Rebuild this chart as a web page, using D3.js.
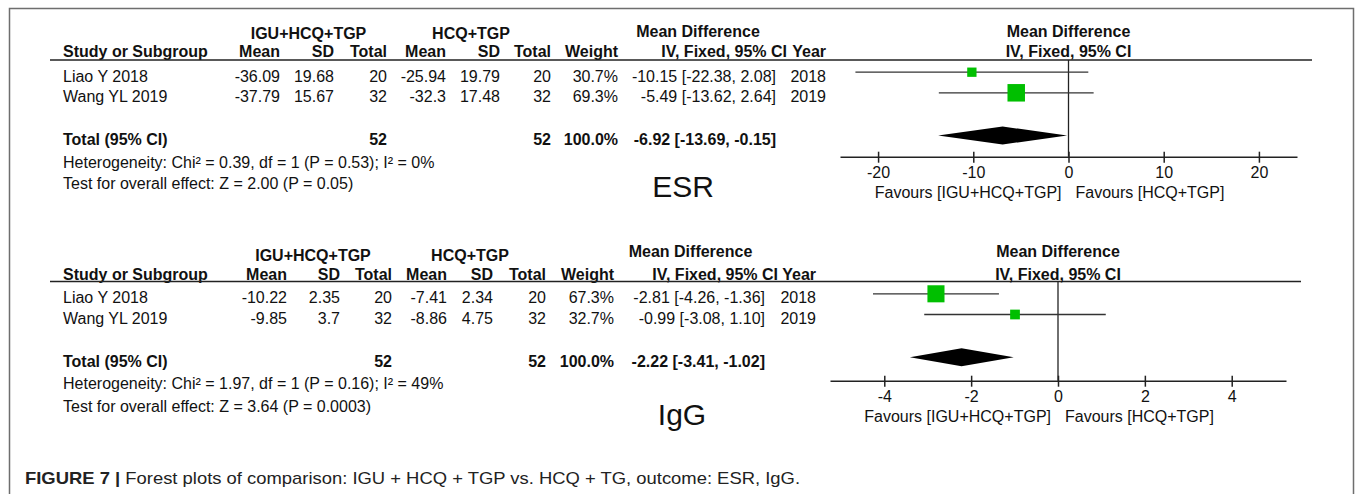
<!DOCTYPE html>
<html>
<head>
<meta charset="utf-8">
<script src="https://cdn.jsdelivr.net/npm/d3@7"></script>
<style>
  html, body { margin: 0; padding: 0; background: #fff; }
  svg { display: block; font-family: "Liberation Sans", Arial, Helvetica, sans-serif; }
</style>
</head>
<body>
<svg id="chart" width="1355" height="494"></svg>
<script>
// ---- study-level data ----
const studies = ["Liao Y 2018", "Wang YL 2019"];
const years = [2018, 2019];

// ESR
const esrIguMean = [-36.09, -37.79];
const esrIguSD = [19.68, 15.67];
const esrIguN = [20, 32];
const esrHcqMean = [-25.94, -32.3];
const esrHcqSD = [19.79, 17.48];
const esrHcqN = [20, 32];
const esrWeight = [30.7, 69.3];
const esrMD = [-10.15, -5.49];
const esrLow = [-22.38, -13.62];
const esrHigh = [2.08, 2.64];
const esrPooled = [-6.92, -13.69, -0.15];   // estimate, lower, upper
const esrTicks = [-20, -10, 0, 10, 20];
const esrHet = "Heterogeneity: Chi² = 0.39, df = 1 (P = 0.53); I² = 0%";
const esrTest = "Test for overall effect: Z = 2.00 (P = 0.05)";

// IgG
const iggIguMean = [-10.22, -9.85];
const iggIguSD = [2.35, 3.7];
const iggIguN = [20, 32];
const iggHcqMean = [-7.41, -8.86];
const iggHcqSD = [2.34, 4.75];
const iggHcqN = [20, 32];
const iggWeight = [67.3, 32.7];
const iggMD = [-2.81, -0.99];
const iggLow = [-4.26, -3.08];
const iggHigh = [-1.36, 1.10];
const iggPooled = [-2.22, -3.41, -1.02];
const iggTicks = [-4, -2, 0, 2, 4];
const iggHet = "Heterogeneity: Chi² = 1.97, df = 1 (P = 0.16); I² = 49%";
const iggTest = "Test for overall effect: Z = 3.64 (P = 0.0003)";

const groupA = "IGU+HCQ+TGP";
const groupB = "HCQ+TGP";

const svg = d3.select("#chart");
const INK = "#111";
const FS = 16;

// frame
svg.append("path")
  .attr("d", "M9.5,494 L9.5,8.5 L1353.5,8.5 L1353.5,494")
  .attr("fill", "none").attr("stroke", "#6e6e6e").attr("stroke-width", 1.5);

const fmt2 = v => v.toFixed(2);
const ciText = (m, lo, hi) => `${fmt2(m)} [${fmt2(lo)}, ${fmt2(hi)}]`;

function txt(g, x, y, s, anchor, bold, size) {
  return g.append("text")
    .attr("x", x).attr("y", y)
    .attr("text-anchor", anchor || "start")
    .attr("font-size", size || FS)
    .attr("font-weight", bold ? "bold" : "normal")
    .attr("fill", INK)
    .text(s);
}

function drawPanel(p) {
  const g = svg.append("g");
  const L = p.layout;

  // group headers
  txt(g, L.grpA, L.h1, groupA, "middle", true);
  txt(g, L.grpB, L.h1, groupB, "middle", true);
  txt(g, L.grpMD, L.h0, "Mean Difference", "middle", true);

  // column headers
  txt(g, 63, L.h2, "Study or Subgroup", "start", true);
  txt(g, L.c[0], L.h2, "Mean", "end", true);
  txt(g, L.c[1], L.h2, "SD", "end", true);
  txt(g, L.c[2], L.h2, "Total", "end", true);
  txt(g, L.c[3], L.h2, "Mean", "end", true);
  txt(g, L.c[4], L.h2, "SD", "end", true);
  txt(g, L.c[5], L.h2, "Total", "end", true);
  txt(g, L.c[6], L.h2, "Weight", "end", true);
  txt(g, L.ivHead, L.h2, "IV, Fixed, 95% CI", "end", true);
  txt(g, L.c[8], L.h2, "Year", "end", true);

  // header rule
  g.append("line")
    .attr("x1", 50).attr("x2", L.ruleEnd)
    .attr("y1", L.rule).attr("y2", L.rule)
    .attr("stroke", "#222").attr("stroke-width", 1.5);

  // study rows
  studies.forEach((s, i) => {
    const y = L.rows[i];
    txt(g, 63, y, s);
    txt(g, L.c[0], y, String(p.aMean[i]), "end");
    txt(g, L.c[1], y, String(p.aSD[i]), "end");
    txt(g, L.c[2], y, String(p.aN[i]), "end");
    txt(g, L.c[3], y, String(p.bMean[i]), "end");
    txt(g, L.c[4], y, String(p.bSD[i]), "end");
    txt(g, L.c[5], y, String(p.bN[i]), "end");
    txt(g, L.c[6], y, p.weight[i].toFixed(1) + "%", "end");
    txt(g, L.c[7], y, ciText(p.md[i], p.lo[i], p.hi[i]), "end");
    txt(g, L.c[8], y, String(years[i]), "end");
  });

  // totals
  const totA = d3.sum(p.aN), totB = d3.sum(p.bN), totW = d3.sum(p.weight);
  txt(g, 63, L.total, "Total (95% CI)", "start", true);
  txt(g, L.c[2], L.total, String(totA), "end", true);
  txt(g, L.c[5], L.total, String(totB), "end", true);
  txt(g, L.c[6], L.total, totW.toFixed(1) + "%", "end", true);
  txt(g, L.c[7], L.total, ciText(p.pooled[0], p.pooled[1], p.pooled[2]), "end", true);
  txt(g, 63, L.het, p.het);
  txt(g, 63, L.test, p.test);

  // outcome label
  txt(g, L.tagX, L.tagY, p.tag, "middle", false, 30);

  // ---- forest plot ----
  const x = d3.scaleLinear().domain(p.domain).range(p.range);
  const size = d3.scaleLinear().domain([0, 100]).range([2.8, 24]);
  const off = 9.5;

  txt(g, x(0), L.h0, "Mean Difference", "middle", true);
  txt(g, x(0), L.h2, "IV, Fixed, 95% CI", "middle", true);

  // line of no effect
  g.append("line")
    .attr("x1", x(0)).attr("x2", x(0))
    .attr("y1", L.rule).attr("y2", L.axisY)
    .attr("stroke", "#222").attr("stroke-width", 1.3);

  studies.forEach((s, i) => {
    const y = L.rows[i] - off;
    g.append("line")
      .attr("x1", x(p.lo[i])).attr("x2", x(p.hi[i]))
      .attr("y1", y).attr("y2", y)
      .attr("stroke", "#333").attr("stroke-width", 1.3);
    const w = size(p.weight[i]);
    g.append("rect")
      .attr("x", x(p.md[i]) - w / 2).attr("y", y - w / 2)
      .attr("width", w).attr("height", w)
      .attr("fill", "#00bf00");
  });

  const dy = L.total - off;
  const [pm, pl, ph] = p.pooled;
  g.append("path")
    .attr("d", `M${x(pl)},${dy} L${x(pm)},${dy - 9} L${x(ph)},${dy} L${x(pm)},${dy + 9} Z`)
    .attr("fill", "#000");

  // axis
  const ax = g.append("g")
    .attr("transform", `translate(0,${L.axisY})`)
    .call(d3.axisBottom(x).tickValues(p.ticks).tickSizeOuter(0).tickSizeInner(6)
      .tickFormat(d => String(d)));
  ax.select(".domain").attr("stroke", "#222").attr("stroke-width", 1.5);
  ax.selectAll(".tick line").attr("y1", -5).attr("y2", 6)
    .attr("stroke", "#222").attr("stroke-width", 1.5);
  ax.selectAll(".tick text")
    .attr("y", 0).attr("dy", 0)
    .attr("transform", "translate(0,21)")
    .attr("font-size", FS).attr("font-family", "Liberation Sans, Arial, sans-serif")
    .attr("fill", INK);

  txt(g, x(0) - 7, L.axisY + 41.5, `Favours [${groupA}]`, "end");
  txt(g, x(0) + 7, L.axisY + 41.5, `Favours [${groupB}]`, "start");
}

drawPanel({
  tag: "ESR",
  aMean: esrIguMean, aSD: esrIguSD, aN: esrIguN,
  bMean: esrHcqMean, bSD: esrHcqSD, bN: esrHcqN,
  weight: esrWeight, md: esrMD, lo: esrLow, hi: esrHigh,
  pooled: esrPooled, ticks: esrTicks, het: esrHet, test: esrTest,
  domain: [-24, 24], range: [840, 1297],
  layout: {
    h0: 36.7, h1: 39.3, h2: 57.3, rule: 60, ruleEnd: 1312,
    rows: [81.7, 102.3], total: 145, het: 168.3, test: 189.3,
    grpA: 308.5, grpB: 471, grpMD: 698,
    c: [280, 334, 387, 446, 500, 551, 618, 776, 826], ivHead: 787,
    tagX: 683, tagY: 197, axisY: 156.7
  }
});

drawPanel({
  tag: "IgG",
  aMean: iggIguMean, aSD: iggIguSD, aN: iggIguN,
  bMean: iggHcqMean, bSD: iggHcqSD, bN: iggHcqN,
  weight: iggWeight, md: iggMD, lo: iggLow, hi: iggHigh,
  pooled: iggPooled, ticks: iggTicks, het: iggHet, test: iggTest,
  domain: [-5.25, 5.25], range: [830, 1286],
  layout: {
    h0: 257.3, h1: 260.7, h2: 279.5, rule: 281.5, ruleEnd: 1301,
    rows: [303.3, 324], total: 366.7, het: 389.3, test: 411.7,
    grpA: 313, grpB: 470, grpMD: 690.5,
    c: [287, 340, 392, 447, 493, 546, 614, 765, 816], ivHead: 778,
    tagX: 682, tagY: 424.5, axisY: 380.7
  }
});

// caption
const cap = svg.append("text")
  .attr("x", 25).attr("y", 484)
  .attr("font-size", 17)
  .attr("font-family", "'Liberation Sans Narrow', 'Liberation Sans', Arial, sans-serif")
  .attr("fill", "#222")
  .attr("textLength", 775).attr("lengthAdjust", "spacingAndGlyphs");
cap.append("tspan").attr("font-weight", "bold").text("FIGURE 7 | ");
cap.append("tspan").text("Forest plots of comparison: IGU + HCQ + TGP vs. HCQ + TG, outcome: ESR, IgG.");
</script>
</body>
</html>
